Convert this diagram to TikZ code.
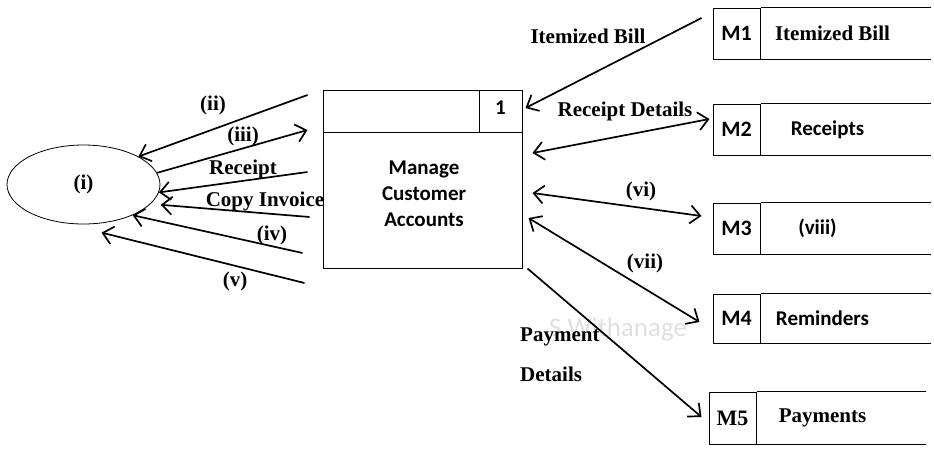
\documentclass[tikz,border=0pt]{standalone}
\usepackage{fontspec}
\setmainfont{Liberation Serif}
\newfontfamily\calibri{Carlito}
\usetikzlibrary{shapes,arrows.meta,positioning}

\begin{document}
\begin{tikzpicture}[x=1pt,y=-1pt,>={Straight Barb[length=10pt,width=18pt]},node distance=90pt,auto]
        % Define block styles
        \tikzstyle{process} = [rectangle, draw, line width=1pt, minimum width=199pt, minimum height=178pt, inner sep=0pt]
        \tikzstyle{entity} = [ellipse, draw, line width=0.8pt, minimum width=153pt, minimum height=79pt, inner sep=0pt, font=\bfseries\fontsize{21}{24}\selectfont]
        \tikzstyle{storeid} = [rectangle, draw, line width=1pt, minimum width=47pt, minimum height=51pt, inner sep=0pt, font=\calibri\bfseries\fontsize{22}{24}\selectfont]
        \tikzstyle{sanstext} = [font=\calibri\bfseries\fontsize{21}{26}\selectfont, align=center, inner sep=0pt]
        \tikzstyle{flowlabel} = [font=\bfseries\fontsize{21}{24}\selectfont, inner sep=0pt]
        \tikzstyle{edge} = [draw, line width=1pt]
        \tikzstyle{line} = [draw, line width=1.7pt, ->]
        \tikzstyle{dline} = [draw, line width=1.7pt, <->]

        \useasboundingbox (0,0) rectangle (934,451);

        \node [font=\calibri\fontsize{27}{30}\selectfont, text=black!12] (watermark) at (618,329) {S Withanage};

        % Nodes
        \node [entity] (customer) at (83.5,184.5) {(i)};
        \node [process] (accounts) at (422.5,179) {};
        \draw [edge] ([yshift=-43pt]accounts.north west) -- ([yshift=-43pt]accounts.north east);
        \draw [edge] ([xshift=-43pt]accounts.north east) -- ([shift={(-43pt,-43pt)}]accounts.north east);
        \node [sanstext] (accounts_no) at (500.5,108) {1};
        \node [sanstext] (accounts_name) at (424,194) {Manage\\Customer\\Accounts};

        \node [storeid] (m1) at (736.5,33.5) {M1};
        \node [storeid] (m2) at (736.5,129.5) {M2};
        \node [storeid] (m3) at (736.5,228.5) {M3};
        \node [storeid, minimum height=49pt] (m4) at (736.5,318.5) {M4};
        \node [storeid, font=\bfseries\fontsize{22}{24}\selectfont, minimum height=52pt] (m5) at (732.5,418) {M5};

        \node [flowlabel, right of=m1, node distance=96pt] (m1_name) {Itemized Bill};
        \node [sanstext, right of=m2, node distance=91pt] (m2_name) {Receipts};
        \node [sanstext, right of=m3, node distance=81pt] (m3_name) {(viii)};
        \node [sanstext, right of=m4, node distance=86pt] (m4_name) {Reminders};
        \node [flowlabel, right of=m5, node distance=90pt] (m5_name) {Payments};

        \foreach \s/\len in {m1/170,m2/170,m3/170,m4/170,m5/169} {
            \draw [edge] (\s.north east) -- ++(\len,0);
            \draw [edge] (\s.south east) -- ++(\len,0);
        }

        % Arrows
        \path [line] ([shift={(-15pt,84pt)}]accounts.west) -- (customer.27);
        \path [line] (customer.9) -- ([shift={(-15pt,49pt)}]accounts.west);
        \path [line] ([shift={(-15pt,7pt)}]accounts.west) -- (customer.-6);
        \path [line] ([shift={(-13pt,-38pt)}]accounts.west) -- ([shift={(8pt,-3pt)}]customer.-14);
        \path [line] ([shift={(-20pt,-74pt)}]accounts.west) -- (customer.-32);
        \path [line] ([shift={(-18pt,-104pt)}]accounts.west) -- ([shift={(3pt,-9pt)}]customer.-69);

        \path [line] ([shift={(-11pt,15.5pt)}]m1.west) -- ([shift={(3pt,71pt)}]accounts.east);
        \path [dline] ([shift={(10pt,26pt)}]accounts.east) -- ([shift={(-3pt,10.5pt)}]m2.west);
        \path [dline] ([shift={(10pt,-14pt)}]accounts.east) -- ([shift={(-11pt,12.5pt)}]m3.west);
        \path [dline] ([shift={(6pt,-39pt)}]accounts.east) -- ([shift={(-13pt,-3.5pt)}]m4.west);
        \path [line] ([xshift=5pt]accounts.south east) -- ([shift={(-7pt,1pt)}]m5.west);

        % Labels
        \node [flowlabel] (lbl_ii) at (213,105) {(ii)};
        \node [flowlabel] (lbl_iii) at (243,136) {(iii)};
        \node [flowlabel] (lbl_receipt) at (243,169) {Receipt};
        \node [flowlabel] (lbl_copy) at (265,201) {Copy Invoice};
        \node [flowlabel] (lbl_iv) at (272,235) {(iv)};
        \node [flowlabel] (lbl_v) at (235,281) {(v)};
        \node [flowlabel] (lbl_bill) at (588,36) {Itemized Bill};
        \node [flowlabel] (lbl_rdetails) at (625,111) {Receipt Details};
        \node [flowlabel] (lbl_vi) at (641,191) {(vi)};
        \node [flowlabel] (lbl_vii) at (645,263) {(vii)};
        \node [flowlabel, anchor=west] (lbl_payment) at (520,337) {Payment};
        \node [flowlabel, anchor=west] (lbl_pdetails) at (520,374) {Details};

\end{tikzpicture}
\end{document}
